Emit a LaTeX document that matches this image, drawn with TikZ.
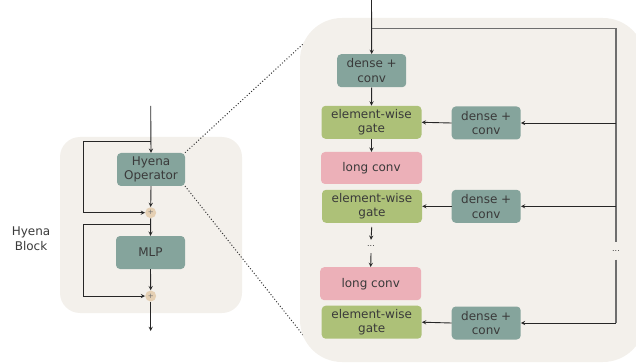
\documentclass[tikz,border=0pt]{standalone}
\usepackage{fontspec}
\setmainfont{DejaVu Sans}
\usepackage{tikz}
\usetikzlibrary{positioning,arrows.meta,calc}

\definecolor{panelbg}{HTML}{F3F0EB}
\definecolor{tealbox}{HTML}{85A49C}
\definecolor{gatebox}{HTML}{ADC178}
\definecolor{convbox}{HTML}{ECB0B8}
\definecolor{plusfill}{HTML}{E5D0B4}
\definecolor{txt}{HTML}{3A3A3A}
\definecolor{wire}{HTML}{6E6E6E}

\tikzset{
  blk/.style={rounded corners=4pt, text=txt, align=center, inner sep=0pt,
    font=\fontsize{12}{14.6}\selectfont},
  opbox/.style={blk, fill=tealbox, minimum width=69pt, minimum height=33pt},
  gatebox/.style={blk, fill=gatebox, minimum width=100pt, minimum height=33pt},
  convbox/.style={blk, fill=convbox, minimum width=101pt, minimum height=32pt},
  adder/.style={circle, fill=plusfill, minimum size=11pt, inner sep=0pt,
    text=wire, font=\fontsize{7}{7}\selectfont},
  flow/.style={-stealth, line width=0.9pt, black!85},
  rail/.style={line width=1.2pt, wire},
  dots/.style={text=txt, inner sep=0pt, font=\fontsize{8}{8}\selectfont}
}

\begin{document}
\begin{tikzpicture}[x=1pt, y=-1pt]
\useasboundingbox (0,0) rectangle (636,363);

% Backgrounds
\fill[panelbg, rounded corners=20pt] (60,137) rectangle (242,313);
\draw[dotted, line width=1pt, black!80] (185,152.7) -- (309.3,38.3);
\draw[dotted, line width=1pt, black!80] (185,186) -- (313.3,348);
\fill[panelbg, rounded corners=42pt] (300,18) rectangle (645,362);

% Hyena block
\node[blk] (label) at (31,239) {Hyena\\Block};
\coordinate (in) at (150.7,106);
\node[opbox, minimum width=68pt] (hyena) at (151,169.5) {Hyena\\Operator};
\node[adder] (add1) at (150.7,212.7) {+};
\node[opbox] (mlp) at (150.5,252.5) {MLP};
\node[adder] (add2) at (150.7,296) {+};
\coordinate (out) at (150.7,331);

\draw[flow] (in) -- (hyena.north);
\draw[flow] (hyena.south) -- (add1.north);
\draw[flow] (add1.south) -- (mlp.north);
\draw[flow] (mlp.south) -- (add2.north);
\draw[flow] (add2.south) -- (out);

% Skip connections
\coordinate (s1) at (150.7,141);
\coordinate (s2) at (150.7,224);
\draw[flow] (s1) -- (83,141) |- (add1.west);
\draw[flow] (s2) -- (83,224) |- (add2.west);

% Hyena operator
\coordinate (top) at (371.5,0);
\coordinate (tr) at (616,28.3);
\node[opbox] (dc0) at (371.7,70.7) {dense +\\conv};
\node[gatebox] (gate1) at (371.5,122.3) {element-wise\\gate};
\node[opbox] (side1) at (486.2,123) {dense +\\conv};
\node[convbox] (long1) at (371.5,168) {long conv};
\node[gatebox] (gate2) at (372,206.3) {element-wise\\gate};
\node[opbox] (side2) at (486.2,206.3) {dense +\\conv};
\node[dots, minimum height=13pt] (dotsm) at (371,246.5) {...};
\node[convbox, minimum height=33pt] (long2) at (370.7,283.7) {long conv};
\node[gatebox] (gate3) at (371.7,322.2) {element-wise\\gate};
\node[opbox] (side3) at (486.2,323) {dense +\\conv};
\node[dots, minimum height=17pt] (dotsr) at (616,251) {...};
\coordinate (br) at (616,323);

\draw[flow] (top) -- (dc0.north);
\draw[flow] (dc0.south) -- (gate1.north);
\draw[flow] (gate1.south) -- (long1.north);
\draw[flow, shorten <=4pt] (gate2.south) -- (dotsm.north);
\draw[flow] (dotsm.south) -- (long2.north);

% Side branches
\draw[rail] (top |- tr) -- (tr) -- (dotsr.north);
\draw[rail] (dotsr.south) -- (br);
\draw[flow] (side1.east -| tr) -- (side1.east);
\draw[flow] (side2.east -| tr) -- (side2.east);
\draw[flow] (br) -- (side3.east);
\draw[flow] (side1.west) -- (gate1.east);
\draw[flow] (side2.west) -- (gate2.east);
\draw[flow] (side3.west) -- (gate3.east);
\end{tikzpicture}
\end{document}
